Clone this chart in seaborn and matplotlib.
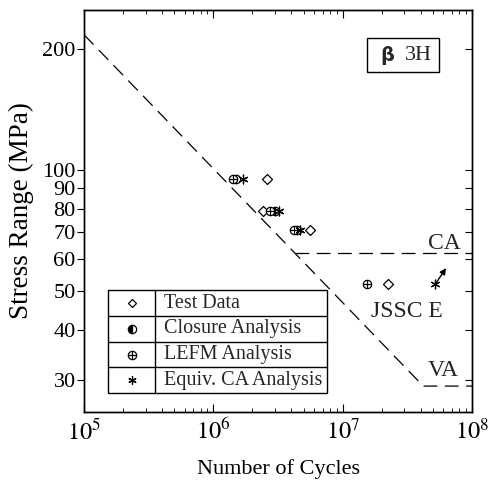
import numpy as np
import pandas as pd
import matplotlib
matplotlib.use("Agg")
import matplotlib.pyplot as plt
import seaborn as sns
from matplotlib.ticker import FixedLocator, NullFormatter, LogLocator

# ---- data ----
test_N = [2.6e6, 2.4e6, 5.6e6, 2.26e7]
test_S = [95, 79, 71, 52]
closure_N = [1.5e6, 3.0e6, 4.4e6]
closure_S = [95, 79, 71]
lefm_N = [1.43e6, 2.74e6, 4.2e6, 1.55e7]
lefm_S = [95, 79, 71, 52]
equiv_N = [1.7e6, 3.2e6, 4.7e6, 5.2e7]
equiv_S = [95, 79, 71, 52]
arrow_to_N, arrow_to_S = 6.3e7, 57
jssc_N = [1e5, 4.2e7, 1e8]
jssc_S = [217, 29, 29]
ca_N = [4.3e6, 1e8]
ca_S = [62, 62]
y_ticks = [30, 40, 50, 60, 70, 80, 90, 100, 200]
x_ticks = [1e5, 1e6, 1e7, 1e8]
x_ticklabels = [r"$10^5$", r"$10^6$", r"$10^7$", r"$10^8$"]
legend_labels = ["Test Data", "Closure Analysis", "LEFM Analysis", "Equiv. CA Analysis"]

sns.set_theme(style="white")
plt.rcParams["font.family"] = ["Liberation Serif", "DejaVu Serif"]
plt.rcParams["mathtext.fontset"] = "stix"

fig = plt.figure(figsize=(4.9, 4.8), dpi=100)
ax = fig.add_axes([84/490, 1-412/480, 388/490, 402/480])
ax.set_xscale("log")
ax.set_yscale("log")
ax.set_xlim(1e5, 1e8)
ax.set_ylim(25, 250)

dash = (0, (11, 6))
jdf = pd.DataFrame({"N": jssc_N, "S": jssc_S})
sns.lineplot(data=jdf, x="N", y="S", ax=ax, color="black", lw=0.9, sort=False)
cdf = pd.DataFrame({"N": ca_N, "S": ca_S})
sns.lineplot(data=cdf, x="N", y="S", ax=ax, color="black", lw=0.9, sort=False)
for ln in ax.get_lines():
    ln.set_linestyle(dash)

ms = 6
# test data: open diamonds
sns.scatterplot(x=test_N, y=test_S, ax=ax, marker="D", s=26, facecolor="white",
                edgecolor="black", linewidth=0.9, zorder=3)
# closure: half filled circles
ax.plot(closure_N, closure_S, ls="none", marker="o", ms=ms, fillstyle="left",
        color="black", markerfacecoloralt="white", mew=0.9, zorder=4)
# LEFM: circle plus
sns.scatterplot(x=lefm_N, y=lefm_S, ax=ax, marker="o", s=36, facecolor="white",
                edgecolor="black", linewidth=0.9, zorder=4)
sns.scatterplot(x=lefm_N, y=lefm_S, ax=ax, marker="+", s=36, color="black",
                linewidth=0.9, zorder=5)
# equivalent CA: asterisks
sns.scatterplot(x=equiv_N, y=equiv_S, ax=ax, marker=(6, 2, 0), s=40, color="black",
                linewidth=0.9, zorder=5)
ax.annotate("", xy=(arrow_to_N, arrow_to_S), xytext=(equiv_N[-1], equiv_S[-1]),
            arrowprops=dict(arrowstyle="-|>", color="black", lw=1, mutation_scale=9,
                            shrinkA=0, shrinkB=0))

ax.set_xlabel("Number of Cycles", fontsize=16, color="black")
ax.set_ylabel("Stress Range (MPa)", fontsize=19.5, color="black")
ax.xaxis.set_label_coords(0.5, -0.118)
ax.yaxis.set_label_coords(-0.128, 0.5)

ax.xaxis.set_major_locator(FixedLocator(x_ticks))
ax.set_xticklabels(x_ticklabels, fontsize=17.5)
ax.xaxis.set_minor_locator(LogLocator(base=10, subs=np.arange(2, 10)))
ax.xaxis.set_minor_formatter(NullFormatter())
ax.yaxis.set_major_locator(FixedLocator(y_ticks))
ax.set_yticklabels([str(v) for v in y_ticks], fontsize=16)
ax.yaxis.set_minor_locator(FixedLocator([]))

ax.tick_params(axis="x", which="both", direction="in", top=True, bottom=True,
               colors="black", pad=5)
ax.tick_params(axis="x", which="major", length=6, width=0.8)
ax.tick_params(axis="x", which="minor", length=3, width=0.6)
ax.tick_params(axis="y", which="major", direction="out", length=5, width=0.8,
               left=True, right=False, colors="black", pad=1)
# right side inward ticks
ax2 = ax.twinx()
ax2.set_yscale("log")
ax2.set_ylim(ax.get_ylim())
ax2.yaxis.set_major_locator(FixedLocator(y_ticks))
ax2.yaxis.set_minor_locator(FixedLocator([]))
ax2.yaxis.set_major_formatter(NullFormatter())
ax2.tick_params(axis="y", direction="in", length=5, width=0.8, colors="black")
ax2.grid(False)
ax.grid(False)
for a in (ax, ax2):
    for sp in a.spines.values():
        sp.set_color("black")
        sp.set_linewidth(1.0)

# annotations
ax.text(0.930, 0.420, "CA", transform=ax.transAxes, fontsize=17, ha="center", va="center")
ax.text(0.832, 0.249, "JSSC E", transform=ax.transAxes, fontsize=17, ha="center", va="center")
ax.text(0.925, 0.102, "VA", transform=ax.transAxes, fontsize=17, ha="center", va="center")

# beta 3H box
bx0, bx1, by0, by1 = 0.729, 0.915, 0.846, 0.930
ax.add_patch(plt.Rectangle((bx0, by0), bx1-bx0, by1-by0, transform=ax.transAxes,
                           fill=False, ec="black", lw=1.0, zorder=6))
ax.text(0.781, 0.888, "β", transform=ax.transAxes, fontsize=14, ha="center", va="center",
        family=["DejaVu Sans"], fontweight="bold")
ax.text(0.861, 0.886, "3H", transform=ax.transAxes, fontsize=16, ha="center", va="center")

# legend table
lx0, lxd, lx1 = 0.062, 0.183, 0.626
ly1, ly0 = 0.303, 0.047
ax.add_patch(plt.Rectangle((lx0, ly0), lx1-lx0, ly1-ly0, transform=ax.transAxes,
                           fill=True, fc="white", ec="black", lw=1.0, zorder=6))
ax.plot([lxd, lxd], [ly0, ly1], transform=ax.transAxes, color="black", lw=1.0, zorder=7)
rh = (ly1 - ly0) / 4
for i in range(1, 4):
    yy = ly1 - i*rh
    ax.plot([lx0, lx1], [yy, yy], transform=ax.transAxes, color="black", lw=1.0, zorder=7)
mx = (lx0 + lxd) / 2
for i, lab in enumerate(legend_labels):
    yc = ly1 - (i + 0.5) * rh
    ax.text(lxd + 0.022, yc, lab, transform=ax.transAxes, fontsize=14.5, ha="left",
            va="center", zorder=8)
    if i == 0:
        ax.plot([mx], [yc], transform=ax.transAxes, marker="D", ms=4.5, mfc="white",
                mec="black", mew=0.9, ls="none", zorder=8)
    elif i == 1:
        ax.plot([mx], [yc], transform=ax.transAxes, marker="o", ms=ms, fillstyle="left",
                color="black", markerfacecoloralt="white", mew=0.9, ls="none", zorder=8)
    elif i == 2:
        ax.plot([mx], [yc], transform=ax.transAxes, marker="o", ms=ms, mfc="white",
                mec="black", mew=0.9, ls="none", zorder=8)
        ax.plot([mx], [yc], transform=ax.transAxes, marker="+", ms=ms, color="black",
                mew=0.9, ls="none", zorder=9)
    else:
        ax.plot([mx], [yc], transform=ax.transAxes, marker=(6, 2, 0), ms=ms, color="black",
                mew=0.9, ls="none", zorder=8)

fig.savefig("out.png", dpi=100)
